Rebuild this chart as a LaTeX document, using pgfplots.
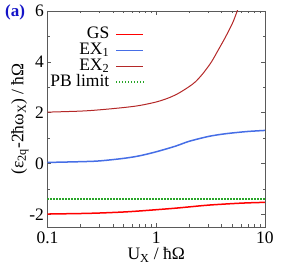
\documentclass[border=0pt]{standalone}
\usepackage{fontspec}
\setmainfont{Liberation Serif}
\usepackage{pgfplots}
\pgfplotsset{compat=1.18}
\definecolor{gsred}{RGB}{255,0,0}
\definecolor{exblue}{RGB}{70,110,230}
\definecolor{exbrown}{RGB}{180,40,40}
\definecolor{pbgreen}{RGB}{40,165,40}
\definecolor{labblue}{RGB}{20,20,200}
\definecolor{axgray}{RGB}{90,90,90}
\begin{document}
\begin{tikzpicture}
\begin{axis}[
  name=ax,
  scale only axis,
  width=217.5pt, height=216pt,
  xmode=log, xmin=0.1, xmax=10,
  ymin=-2.5, ymax=6,
  ytick={-2,0,2,4,6},
  minor ytick={-1,1,3,5},
  xtick={0.1,1,10},
  xticklabels={0.1,1,10},
  tick align=inside,
  major tick length=4pt, minor tick length=2.5pt,
  axis line style={axgray, line width=0.8pt},
  every tick/.style={axgray, line width=0.5pt},
  font=\fontsize{17.5}{19}\selectfont,
  tick label style={font=\fontsize{17.5}{19}\selectfont},
  /pgf/number format/assume math mode=true,
  xticklabel style={yshift=-1pt},
  xlabel={U\textsubscript{X} / ħΩ},
  ylabel={(ε\textsubscript{2q}-2ħω\textsubscript{X}) / ħΩ},
  xlabel style={yshift=3pt},
  ylabel style={yshift=-6pt},
  legend plot pos=right,
  legend cell align=right,
  legend image code/.code={\draw[#1] (0cm,0cm) -- (0.95cm,0cm);},
  legend style={draw=none, fill=none, at={(0.445,0.925)}, anchor=north east,
    font=\fontsize{17.5}{19}\selectfont, row sep=2pt, column sep=5pt, inner sep=0pt,
    nodes={inner sep=1pt, text height=10pt, text depth=2pt}},
]
\addplot[gsred, line width=1.5pt, smooth, forget plot] coordinates {
(0.1,-1.99) (0.2,-1.97) (0.3,-1.95) (0.5,-1.91) (0.7,-1.87) (1,-1.82) (1.5,-1.76) (2,-1.71) (3,-1.64) (5,-1.58) (7,-1.55) (10,-1.53)};
\addplot[exblue, line width=1.5pt, smooth, forget plot] coordinates {
(0.1,0.04) (0.2,0.07) (0.3,0.1) (0.5,0.2) (0.7,0.3) (1,0.46) (1.5,0.68) (2,0.87) (3,1.06) (4,1.15) (5,1.2) (7,1.26) (10,1.3)};
\addplot[exbrown, line width=1pt, smooth, forget plot] coordinates {
(0.1,2.02) (0.2,2.06) (0.3,2.11) (0.5,2.2) (0.7,2.28) (1,2.42) (1.3,2.58) (1.6,2.76) (2,3.02) (2.3,3.22) (2.7,3.55) (3.2,3.98) (3.7,4.45) (4.3,4.95) (5,5.5) (5.5,5.95) (6,6.4)};
\addplot[pbgreen, line width=1.8pt, dash pattern=on 1.2pt off 1.8pt, forget plot] coordinates {(0.1,-1.414) (10,-1.414)};
\addlegendimage{gsred, line width=1.6pt}
\addlegendentry{GS}
\addlegendimage{exblue, line width=1.6pt}
\addlegendentry{EX\textsubscript{1}}
\addlegendimage{exbrown, line width=1.1pt}
\addlegendentry{EX\textsubscript{2}}
\addlegendimage{pbgreen, line width=1.8pt, dash pattern=on 1.2pt off 1.8pt}
\addlegendentry{PB limit}
\end{axis}
\node[font=\bfseries\fontsize{17}{18}\selectfont, text=labblue] at ([shift={(-32.5pt,-1pt)}]ax.north west) {(a)};
\pgfresetboundingbox
\path[use as bounding box] ([shift={(-47.5pt,-46pt)}]ax.south west) rectangle ([shift={(16pt,11pt)}]ax.north east);
\end{tikzpicture}
\end{document}
